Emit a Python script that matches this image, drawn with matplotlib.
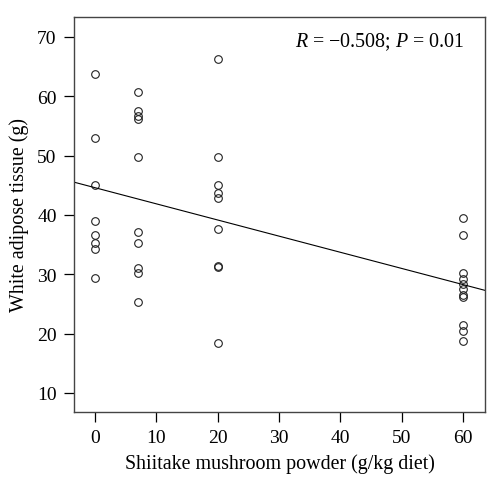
import numpy as np
import matplotlib
matplotlib.use("Agg")
import matplotlib.pyplot as plt

plt.rcParams['font.family'] = 'Liberation Serif'
plt.rcParams['mathtext.fontset'] = 'custom'
plt.rcParams['mathtext.rm'] = 'Liberation Serif'
plt.rcParams['mathtext.it'] = 'Liberation Serif:italic'

# dose groups (g/kg diet) and white adipose tissue weights (g)
x_0 = [0] * 8
y_0 = [63.8, 53.0, 45.1, 39.0, 36.7, 35.2, 34.2, 29.3]
x_7 = [7] * 10
y_7 = [60.7, 57.5, 56.7, 56.1, 49.8, 37.1, 35.2, 31.0, 30.2, 25.3]
x_20 = [20] * 9
y_20 = [66.2, 49.8, 45.1, 43.7, 42.8, 37.6, 31.3, 31.4, 18.4]
x_60 = [60] * 11
y_60 = [39.4, 36.7, 30.3, 29.2, 28.3, 27.5, 26.5, 26.1, 21.5, 20.5, 18.8]

x_ticks = [0, 10, 20, 30, 40, 50, 60]
y_ticks = [10, 20, 30, 40, 50, 60, 70]

x = np.array(x_0 + x_7 + x_20 + x_60, dtype=float)
y = np.array(y_0 + y_7 + y_20 + y_60)

fig = plt.figure(figsize=(4.9, 4.85), dpi=100)
ax = fig.add_axes([0.151, 0.1485, 0.839, 0.815])

ax.plot(x, y, 'o', mfc='none', mec='#222222', ms=5.5, mew=0.8)

# least squares line
b, a = np.polyfit(x, y, 1)
xl = np.array([-3.4, 63.6])
ax.plot(xl, a + b * xl, color='black', lw=0.8)

ax.set_xlim(-3.4, 63.6)
ax.set_ylim(6.8, 73.4)
ax.set_xticks(x_ticks)
ax.set_yticks(y_ticks)
ax.tick_params(direction='out', length=7.5, width=0.9, labelsize=14, pad=5)

for s in ax.spines.values():
    s.set_color('#444444')
    s.set_linewidth(1.0)

ax.set_xlabel('Shiitake mushroom powder (g/kg diet)', fontsize=14.4, labelpad=5)
ax.set_ylabel('White adipose tissue (g)', fontsize=14.4, labelpad=6)

ax.text(0.949, 0.937, '$R$ = \u22120.508; $P$ = 0.01', transform=ax.transAxes,
        ha='right', va='center', fontsize=14.4)

fig.savefig('out.png', dpi=100)
